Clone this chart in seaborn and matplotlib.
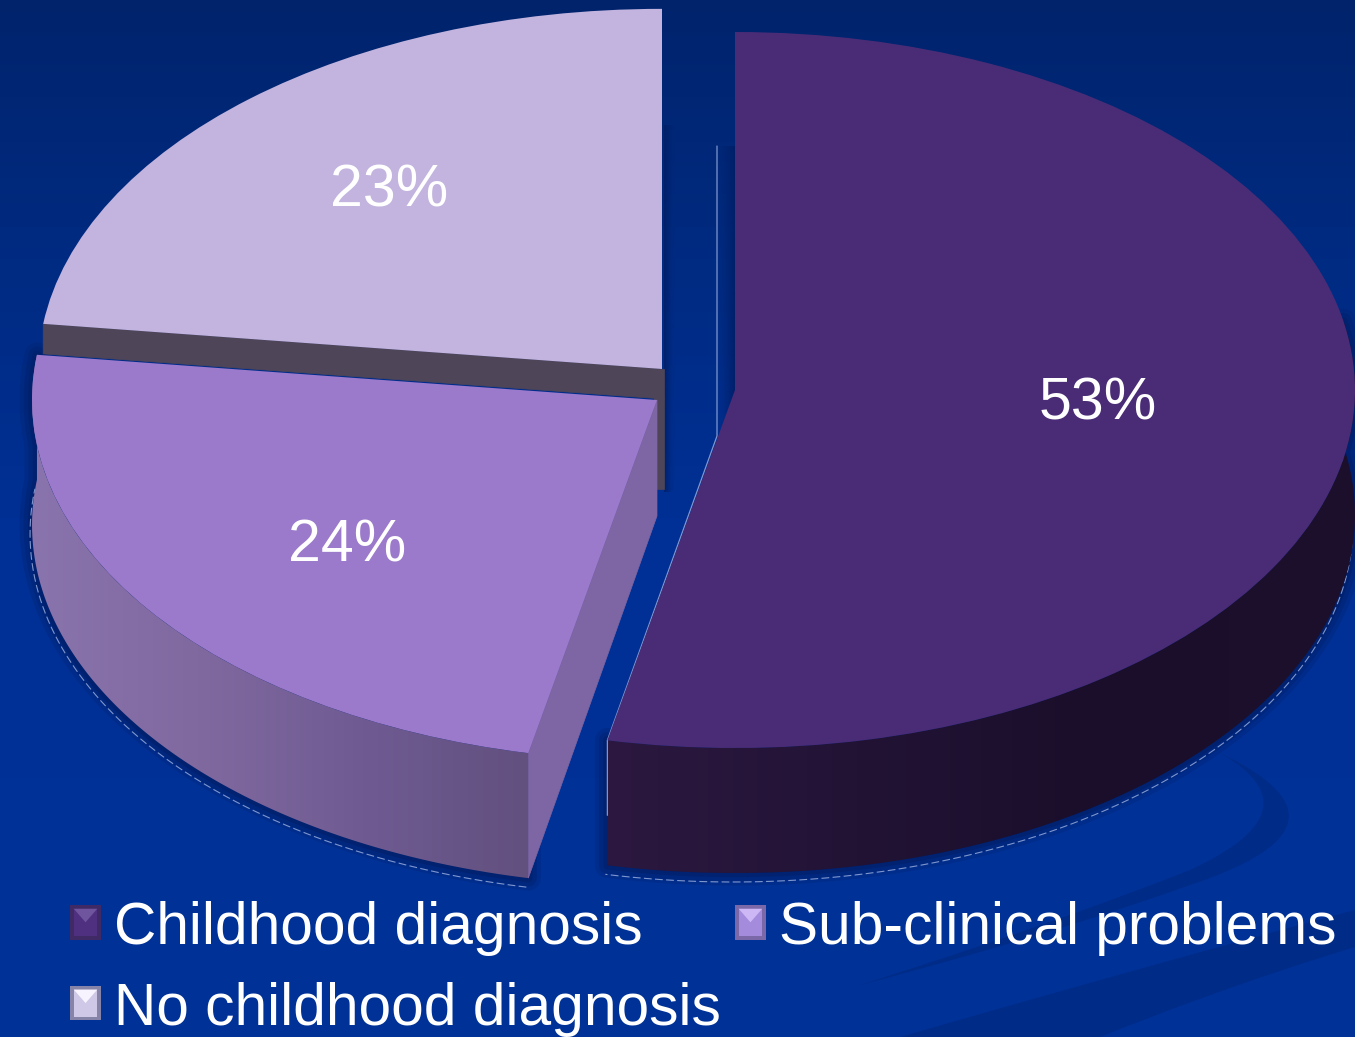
import numpy as np
import matplotlib
matplotlib.use("Agg")
import matplotlib.pyplot as plt
from matplotlib.colors import LinearSegmentedColormap as LSC, to_rgb
from matplotlib.legend_handler import HandlerBase
from matplotlib.patches import Patch, Polygon
import seaborn as sns

categories = ["Childhood diagnosis", "Sub-clinical problems", "No childhood diagnosis"]
# they round to the printed 53 / 24 / 23 %
shares = [53.3, 23.7, 23.0]

W, H = 1355, 1037
RX, RY = 620.0, 358.0
DEPTH = 125.0
centers_px = [(735, 390), (657, 400), (662, 369)]
radii = [1.0, 1.008, 1.006]
top_cols = ["#4a2c76", "#9b79cb", "#c2b4de"]
bevel_cols = [("#3f2a66", "#4f3080", "#6f549e"), ("#7a68a8", "#a58bdc", "#cdb8f5"), ("#8683a8", "#cfc8e6", "#f8f4ff")]
label_px = [(1098, 404), (347, 546), (389, 191)]

sns.set_theme(style="white")
plt.rcParams["font.family"] = ["Liberation Sans", "DejaVu Sans"]

fig = plt.figure(figsize=(W / 100, H / 100), dpi=100)
bg = fig.add_axes([0, 0, 1, 1], zorder=0)
bg.axis("off")
grad = LSC.from_list("bg", ["#00236c", "#002b82", "#003095", "#003197", "#003197"])
bg.imshow(np.linspace(0, 1, 256)[:, None], cmap=grad, aspect="auto", extent=(0, W, H, 0))


def bez(p0, p1, p2, n=60):
    t = np.linspace(0, 1, n)[:, None]
    return (1 - t) ** 2 * np.array(p0) + 2 * t * (1 - t) * np.array(p1) + t ** 2 * np.array(p2)


# faint swooshes of the slide background
swoosh = "#002c88"
crescent = np.r_[bez((1220, 753), (1371, 825), (1190, 885)), bez((1190, 885), (1050, 935), (860, 985)),
                 bez((860, 985), (1050, 925), (1190, 870)), bez((1190, 870), (1320, 810), (1220, 753))]
bg.fill(crescent[:, 0], crescent[:, 1], color=swoosh, lw=0)
band = np.r_[bez((1355, 910), (1150, 965), (900, 1037)), bez((1100, 1037), (1230, 985), (1355, 947))]
bg.fill(band[:, 0], band[:, 1], color=swoosh, lw=0)
bg.set_xlim(0, W)
bg.set_ylim(H, 0)

ax = fig.add_axes([0, 0, 1, 1], zorder=1)
ax.patch.set_alpha(0)


def X(px):
    return (np.asarray(px, float) - 735) / RX


def Y(py):
    return (390 - np.asarray(py, float)) / RY


wedges, texts, autotexts = ax.pie(
    shares, colors=top_cols, startangle=90, counterclock=False, autopct="%.0f%%", radius=1,
    textprops=dict(color="white", fontsize=42.5), wedgeprops=dict(linewidth=0, zorder=10),
)
ax.axis("off")

fr = np.cumsum([0] + shares) / sum(shares) * 2 * np.pi
side_maps = [
    LSC.from_list("a", ["#2c1840", "#221335", "#1a0e2a", "#1d102c"]),
    LSC.from_list("b", ["#8a74ad", "#80699f", "#6f5b92", "#62507f"]),
]
halo = "#001f68"
glow = "#7f97cf"
for i, w in enumerate(wedges):
    cx, cy = centers_px[i]
    w.set_center((float(X(cx)), float(Y(cy))))
    w.set_radius(radii[i])
    if i < 2:
        a = np.linspace(fr[i], fr[i + 1], 300)
        ex, ey = cx + radii[i] * RX * np.sin(a), cy - radii[i] * RY * np.cos(a)
        mask = np.cos(a) <= 0.2
        xs, ys = ex[mask], ey[mask]
        poly = np.r_[np.c_[xs, ys], np.c_[xs, ys + DEPTH][::-1]]
        pts = np.c_[X(poly[:, 0]), Y(poly[:, 1])]
        # soft dark halo and thin light rim round the solid
        for lw, al in [(18, 0.25), (12, 0.35), (6, 0.6)]:
            ax.add_patch(Polygon(pts, closed=True, fc=halo, ec=halo, lw=lw, alpha=al, zorder=2, joinstyle="round"))
        ax.plot(X(xs - 2), Y(ys + DEPTH + 9), color=glow, lw=0.8, ls=(0, (7, 3)), zorder=2.5)
        clip = Polygon(pts, closed=True, fc="none", ec="none", zorder=3)
        ax.add_patch(clip)
        im = ax.imshow(np.linspace(0, 1, 256)[None, :], cmap=side_maps[i], aspect="auto",
                       extent=(float(X(xs.min())), float(X(xs.max())),
                               float(Y(ys.max() + DEPTH)), float(Y(ys.min()))), zorder=3)
        im.set_clip_path(clip)
    px, py = label_px[i]
    autotexts[i].set_position((float(X(px)), float(Y(py))))
    autotexts[i].set_ha("center")
    autotexts[i].set_va("center")
    autotexts[i].set_zorder(20)

ax.set_aspect("auto")
ax.set_xlim(float(X(0)), float(X(W)))
ax.set_ylim(float(Y(H)), float(Y(0)))


def face(pts, col, z=6):
    p = np.array(pts, float)
    ax.add_patch(Polygon(np.c_[X(p[:, 0]), Y(p[:, 1])], closed=True, fc=col, ec=col, lw=0.5, zorder=z))


def fade(x0, x1, y0, y1, left_dark, z=2):
    rgba = np.zeros((1, 64, 4))
    rgba[..., :3] = to_rgb("#001f68")
    ramp = np.linspace(0, 0.95, 64) ** 1.5
    rgba[..., 3] = ramp if not left_dark else ramp[::-1]
    ax.imshow(rgba, aspect="auto", extent=(float(X(x0)), float(X(x1)), float(Y(y1)), float(Y(y0))), zorder=z)


# straight cut faces that the viewer can see
cx1, cy1 = centers_px[1]
bx, by = cx1 + radii[1] * RX * np.sin(fr[1]), cy1 - radii[1] * RY * np.cos(fr[1])
face([(cx1, cy1), (bx, by), (bx, by + DEPTH), (cx1, cy1 + 116)], "#7e65a3", 6)
lx, ly = centers_px[2]
sx, sy = lx + radii[2] * RX * np.sin(fr[2]), ly - radii[2] * RY * np.cos(fr[2])
face([(sx, sy), (lx, ly), (lx + 2, ly + 30), (sx, sy + 30)], "#4f4558", 5)
face([(lx - 8, ly), (lx + 2, ly), (lx + 2, ly + 120), (lx - 8, ly + 120)], "#4f4558", 4)
fade(lx + 2, lx + 13, 125, 492, True)
mx, my = centers_px[0]
fade(mx - 18, mx, 146, 440, False)
mbx, mby = mx + RX * np.sin(fr[1]), my - RY * np.cos(fr[1])
ax.plot(X([mx - 18, mx - 18, mbx, mbx]), Y([146, 436, mby, mby + 75]), color=glow, lw=0.9, zorder=7)
ax.set_xlim(float(X(0)), float(X(W)))
ax.set_ylim(float(Y(H)), float(Y(0)))


class Bevel(HandlerBase):
    def create_artists(self, legend, handle, xdescent, ydescent, width, height, fontsize, trans):
        edge, mid, hi = handle.bevel
        x0, y0 = -xdescent, -ydescent + 0.02 * fontsize
        x1, y1 = x0 + width, y0 + height
        b = 0.12 * width
        ix0, iy0, ix1, iy1 = x0 + b, y0 + b, x1 - b, y1 - b
        parts = [
            ([(x0, y0), (x1, y0), (x1, y1), (x0, y1)], edge),
            ([(ix0, iy0), (ix1, iy0), (ix1, iy1), (ix0, iy1)], mid),
            ([(ix0, iy1), (ix1, iy1), ((ix0 + ix1) / 2, (iy0 + iy1) / 2)], hi),
        ]
        return [Polygon(p, closed=True, fc=c, ec="none", transform=trans) for p, c in parts]


handles = []
for c, n in zip(bevel_cols, categories):
    h = Patch(fc=c[1], label=n)
    h.bevel = c
    handles.append(h)
# columns fill first: Childhood + No childhood on the left, Sub-clinical on the right
order = [0, 2, 1]
leg = ax.legend(handles=[handles[k] for k in order], ncol=2, frameon=False, fontsize=42.2, labelcolor="white",
                loc="lower left", bbox_to_anchor=(70 / W, 0), handlelength=0.53, handleheight=0.53,
                handletextpad=0.22, columnspacing=0.24, labelspacing=0.44, borderpad=0, borderaxespad=0,
                handler_map={Patch: Bevel()})
leg.set_zorder(20)

fig.savefig("out.png", dpi=100)
